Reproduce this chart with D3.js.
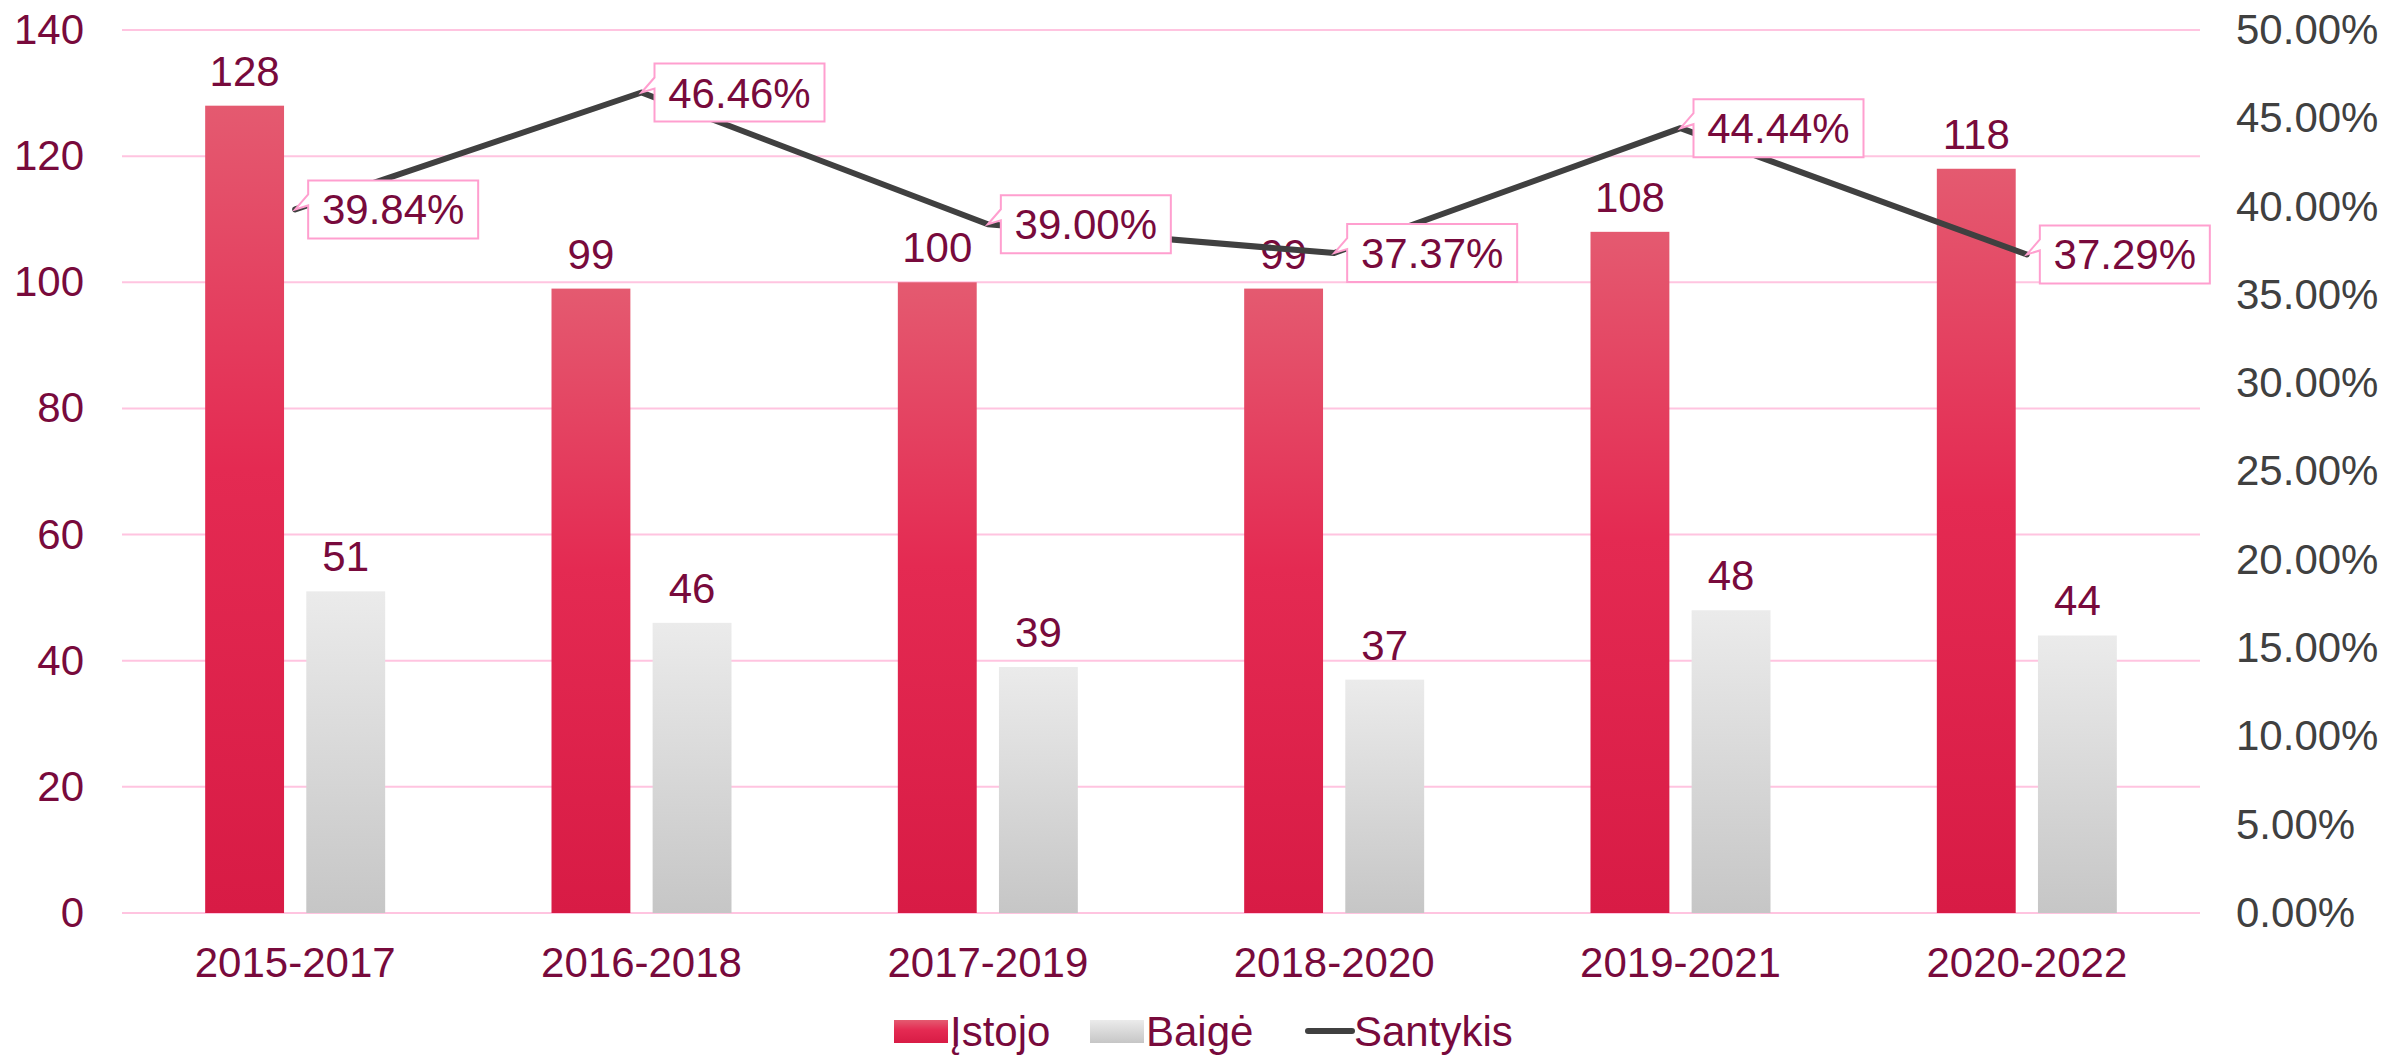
<!DOCTYPE html>
<html>
<head>
<meta charset="utf-8">
<script src="https://cdn.jsdelivr.net/npm/d3@7"></script>
<style>
  body { margin: 0; background: #fff; }
  text { font-family: "Liberation Sans", Arial, sans-serif; }
</style>
</head>
<body>
<div id="chart"></div>
<script>
// chart data
var categories = ["2015-2017", "2016-2018", "2017-2019", "2018-2020", "2019-2021", "2020-2022"];
var istojo = [128, 99, 100, 99, 108, 118];
var baige = [51, 46, 39, 37, 48, 44];
var santykis = [0.3984, 0.4646, 0.39, 0.3737, 0.4444, 0.3729];
var leftTicks = [0, 20, 40, 60, 80, 100, 120, 140];
var rightTicks = [0, 0.05, 0.1, 0.15, 0.2, 0.25, 0.3, 0.35, 0.4, 0.45, 0.5];

var width = 2385,
    height = 1057;

var maroon = "#780a3c",
    grey = "#404040",
    pink = "#ffc4e0",
    fs = "42px";

var svg = d3.select("#chart").append("svg")
    .attr("width", width)
    .attr("height", height);

// gradients for the bars
var defs = svg.append("defs");
var gRed = defs.append("linearGradient").attr("id", "gRed")
    .attr("x1", 0).attr("y1", 0).attr("x2", 0).attr("y2", 1);
gRed.append("stop").attr("offset", "0%").attr("stop-color", "#e45a70");
gRed.append("stop").attr("offset", "45%").attr("stop-color", "#e42a52");
gRed.append("stop").attr("offset", "100%").attr("stop-color", "#d81b45");
var gGrey = defs.append("linearGradient").attr("id", "gGrey")
    .attr("x1", 0).attr("y1", 0).attr("x2", 0).attr("y2", 1);
gGrey.append("stop").attr("offset", "0%").attr("stop-color", "#ebebeb");
gGrey.append("stop").attr("offset", "100%").attr("stop-color", "#c6c6c6");

var x = d3.scaleBand().domain(categories).range([122, 2200]);
var xSub = d3.scaleBand().domain(["istojo", "baige"]).range([-90, 90]).paddingInner(0.22);
var y = d3.scaleLinear().domain([0, 140]).range([913, 30]);
var y2 = d3.scaleLinear().domain([0, 0.5]).range([913, 30]);

function cx(d) { return x(d) + x.bandwidth() / 2; }

// gridlines
svg.append("g").selectAll("line")
    .data(leftTicks).enter().append("line")
    .attr("x1", 122).attr("x2", 2200)
    .attr("y1", function(d) { return y(d); })
    .attr("y2", function(d) { return y(d); })
    .attr("stroke", pink)
    .attr("stroke-width", 2);

// left axis
var leftAxis = svg.append("g")
    .attr("transform", "translate(84,0)")
    .call(d3.axisLeft(y).tickValues(leftTicks).tickSize(0).tickPadding(0));
leftAxis.select(".domain").remove();
leftAxis.selectAll("text")
    .attr("fill", maroon)
    .style("font-size", fs)
    .style("font-family", "Liberation Sans, Arial, sans-serif");

// right axis
var rightAxis = svg.append("g")
    .attr("transform", "translate(2236,0)")
    .call(d3.axisRight(y2).tickValues(rightTicks).tickSize(0).tickPadding(0).tickFormat(d3.format(".2%")));
rightAxis.select(".domain").remove();
rightAxis.selectAll("text")
    .attr("fill", grey)
    .style("font-size", fs)
    .style("font-family", "Liberation Sans, Arial, sans-serif");

// category axis
var bottomAxis = svg.append("g")
    .attr("transform", "translate(0,913)")
    .call(d3.axisBottom(x).tickSize(0).tickPadding(34));
bottomAxis.select(".domain").remove();
bottomAxis.selectAll("text")
    .attr("fill", maroon)
    .style("font-size", fs)
    .style("font-family", "Liberation Sans, Arial, sans-serif");

// bars
svg.append("g").selectAll("rect")
    .data(categories).enter().append("rect")
    .attr("x", function(d) { return cx(d) + xSub("istojo"); })
    .attr("width", xSub.bandwidth())
    .attr("y", function(d, i) { return y(istojo[i]); })
    .attr("height", function(d, i) { return y(0) - y(istojo[i]); })
    .attr("fill", "url(#gRed)");

svg.append("g").selectAll("rect")
    .data(categories).enter().append("rect")
    .attr("x", function(d) { return cx(d) + xSub("baige"); })
    .attr("width", xSub.bandwidth())
    .attr("y", function(d, i) { return y(baige[i]); })
    .attr("height", function(d, i) { return y(0) - y(baige[i]); })
    .attr("fill", "url(#gGrey)");

// bar value labels
svg.append("g").selectAll("text")
    .data(categories).enter().append("text")
    .attr("x", function(d) { return cx(d) + xSub("istojo") + xSub.bandwidth() / 2; })
    .attr("y", function(d, i) { return y(istojo[i]) - 20; })
    .attr("text-anchor", "middle")
    .attr("fill", maroon)
    .style("font-size", fs)
    .text(function(d, i) { return istojo[i]; });

svg.append("g").selectAll("text")
    .data(categories).enter().append("text")
    .attr("x", function(d) { return cx(d) + xSub("baige") + xSub.bandwidth() / 2; })
    .attr("y", function(d, i) { return y(baige[i]) - 20; })
    .attr("text-anchor", "middle")
    .attr("fill", maroon)
    .style("font-size", fs)
    .text(function(d, i) { return baige[i]; });

// ratio line
var line = d3.line()
    .x(function(d, i) { return cx(categories[i]); })
    .y(function(d) { return y2(d); });

svg.append("path")
    .datum(santykis)
    .attr("d", line)
    .attr("fill", "none")
    .attr("stroke", grey)
    .attr("stroke-width", 6)
    .attr("stroke-linejoin", "round")
    .attr("stroke-linecap", "round");

// callout labels
var fmt = d3.format(".2%");
var callouts = svg.append("g").selectAll("g")
    .data(santykis).enter().append("g")
    .attr("transform", function(d, i) {
        return "translate(" + cx(categories[i]) + "," + y2(d) + ")";
    });

// box with a small pointer to the point
var bw = 170, bh = 58, off = 13;
callouts.append("path")
    .attr("d", "M0,0 L" + off + ",-15 L" + off + "," + (-bh / 2) +
               " L" + (off + bw) + "," + (-bh / 2) +
               " L" + (off + bw) + "," + (bh / 2) +
               " L" + off + "," + (bh / 2) +
               " L" + off + ",-4 Z")
    .attr("fill", "#fff")
    .attr("stroke", "#ff9fcf")
    .attr("stroke-width", 2);

callouts.append("text")
    .attr("x", off + bw / 2)
    .attr("y", 15)
    .attr("text-anchor", "middle")
    .attr("fill", maroon)
    .style("font-size", fs)
    .text(function(d) { return fmt(d); });

// legend
var legend = svg.append("g");
legend.append("rect").attr("x", 894).attr("y", 1020).attr("width", 54).attr("height", 23).attr("fill", "url(#gRed)");
legend.append("text").attr("x", 950).attr("y", 1046).attr("fill", maroon).style("font-size", fs).text("Įstojo");
legend.append("rect").attr("x", 1090).attr("y", 1020).attr("width", 54).attr("height", 23).attr("fill", "url(#gGrey)");
legend.append("text").attr("x", 1146).attr("y", 1046).attr("fill", maroon).style("font-size", fs).text("Baigė");
legend.append("line").attr("x1", 1308).attr("x2", 1352).attr("y1", 1031).attr("y2", 1031)
    .attr("stroke", grey).attr("stroke-width", 6).attr("stroke-linecap", "round");
legend.append("text").attr("x", 1354).attr("y", 1046).attr("fill", maroon).style("font-size", fs).text("Santykis");
</script>
</body>
</html>
